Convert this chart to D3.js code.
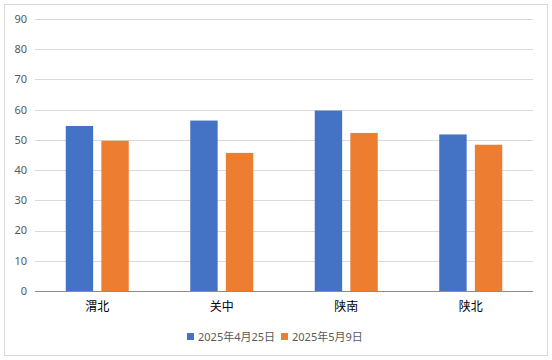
<!DOCTYPE html>
<html><head><meta charset="utf-8">
<script src="https://cdn.jsdelivr.net/npm/d3@7"></script>
<style>body{margin:0;background:#fff}svg{display:block}</style>
</head><body><svg id="c" width="552" height="360"></svg>
<script>
const categories = ["渭北","关中","陕南","陕北"];
const seriesNames = ["2025年4月25日","2025年5月9日"];
const series1 = [54.6, 56.4, 59.7, 51.8];
const series2 = [49.7, 45.7, 52.3, 48.4];
const yTicks = [0,10,20,30,40,50,60,70,80,90];
const colors = ["#4472C4","#ED7D31"];

(function(){
const svg = d3.select("#c");
const font = "'Noto Sans','Noto Sans CJK SC',sans-serif";
svg.append("rect").attr("x",4.5).attr("y",4.5).attr("width",543).attr("height",351)
  .attr("fill","#fff").attr("stroke","#d9d9d9");

const pl=35, pr=533, pt=19, pb=291;
const y = d3.scaleLinear().domain([0,90]).range([pb,pt]);
const x0 = d3.scaleBand().domain(categories).range([pl,pr]).paddingInner(0.494).paddingOuter(0.247);
const x1 = d3.scaleBand().domain([0,1]).range([0,x0.bandwidth()]).paddingInner(0.23);

svg.append("g").selectAll("line").data(yTicks.filter(d=>d>0)).join("line")
  .attr("x1",pl).attr("x2",pr).attr("y1",d=>Math.round(y(d))+0.5).attr("y2",d=>Math.round(y(d))+0.5)
  .attr("stroke","#d9d9d9").attr("stroke-width",1);

svg.append("g").selectAll("text").data(yTicks).join("text")
  .attr("x",27).attr("y",d=>y(d)).attr("dy","0.35em").attr("text-anchor","end")
  .attr("font-family",font).attr("font-size",11).attr("fill","#595959").text(d=>d);

const data = categories.map((c,i)=>({c, v:[series1[i],series2[i]]}));
const g = svg.append("g").selectAll("g").data(data).join("g")
  .attr("transform",d=>`translate(${x0(d.c)},0)`);
g.selectAll("rect").data(d=>d.v.map((v,k)=>({v,k}))).join("rect")
  .attr("x",d=>x1(d.k)).attr("width",x1.bandwidth())
  .attr("y",d=>y(d.v)).attr("height",d=>pb-y(d.v))
  .attr("fill",d=>colors[d.k]);

svg.append("line").attr("x1",pl).attr("x2",pr).attr("y1",pb+0.5).attr("y2",pb+0.5)
  .attr("stroke","#8c8c8c").attr("stroke-width",1);

svg.append("g").selectAll("text").data(categories).join("text")
  .attr("x",d=>x0(d)+x0.bandwidth()/2).attr("y",307).attr("dy","0.35em").attr("text-anchor","middle")
  .attr("font-family",font).attr("font-size",12).attr("fill","#000").text(d=>d);

const lg = svg.append("g");
const legX = [187, 281];
seriesNames.forEach((n,i)=>{
  lg.append("rect").attr("x",legX[i]).attr("y",333).attr("width",7).attr("height",7).attr("fill",colors[i]);
  lg.append("text").attr("x",legX[i]+11).attr("y",337).attr("dy","0.35em")
    .attr("font-family",font).attr("font-size",11).attr("fill","#595959").text(n);
});
})();
</script></body></html>
